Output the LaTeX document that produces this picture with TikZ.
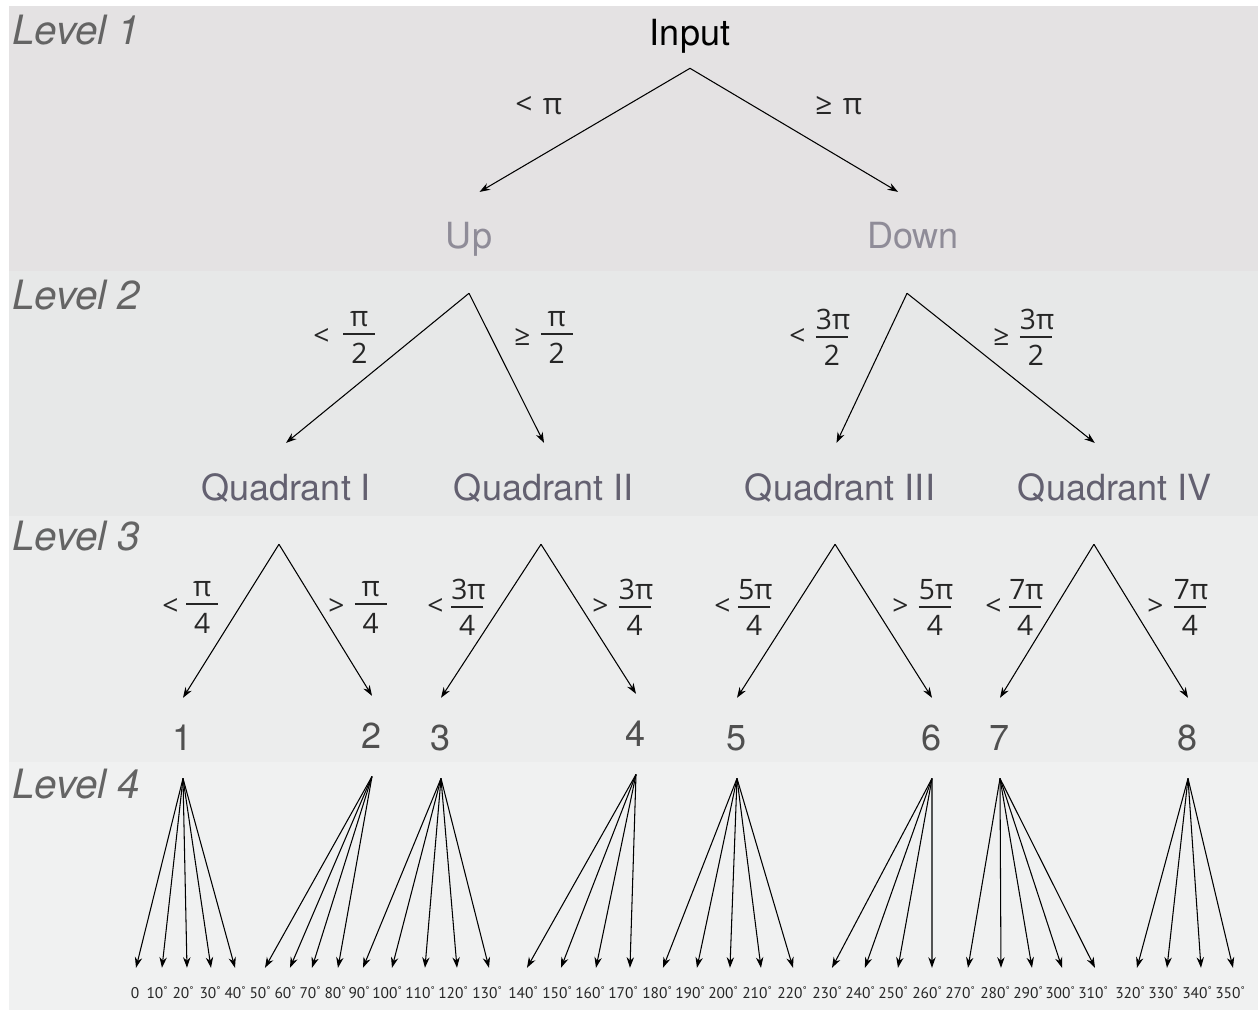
\documentclass[tikz,border=0pt]{standalone}
\usepackage{fontspec}
\setmainfont{TeX Gyre Heros}
\newfontfamily\myriad{Open Sans}
\newfontfamily\narrow{PT Sans}
\usetikzlibrary{arrows.meta}
\definecolor{bandA}{HTML}{E4E2E3}
\definecolor{bandB}{HTML}{E7E8E8}
\definecolor{bandC}{HTML}{ECEDED}
\definecolor{bandD}{HTML}{F0F1F1}
\definecolor{levgray}{HTML}{646464}
\definecolor{halfgray}{HTML}{8F8C98}
\definecolor{quadgray}{HTML}{636070}
\definecolor{numgray}{HTML}{505050}
\definecolor{condblk}{HTML}{262626}
% stacked fraction with a fixed rule width
\newcommand\fr[2]{$\vcenter{\hbox{\vbox{\halign{\hfil##\hfil\cr\hbox to 18pt{\hfil#1\hfil}\cr\noalign{\kern3.5pt\hrule height 1.1pt\kern4.5pt}#2\cr}}}}$}
\newcommand\dg{\raisebox{2.6pt}{\fontsize{5.5}{6}\selectfont °}}
\begin{document}
\begin{tikzpicture}[x=0.02cm,y=-0.02cm,>={Stealth[length=6pt,width=4.2pt]},
  lvl/.style={anchor=base west,inner sep=0pt,text=levgray,font=\fontsize{23}{27}\selectfont\itshape},
  root/.style={anchor=base,inner sep=0pt,text=black,font=\fontsize{20.5}{24}\selectfont,text depth=12.5pt},
  branch/.style={anchor=base,inner sep=0pt,font=\fontsize{20.5}{24}\selectfont,text height=32.3pt,text depth=25pt},
  leaf/.style={anchor=base,inner sep=0pt,text=numgray,font=\fontsize{20.5}{24}\selectfont,text height=29.5pt,text depth=16pt},
  deg/.style={anchor=base,inner sep=0pt,text=condblk,font=\narrow\fontsize{8.8}{10}\selectfont,text height=17pt},
  cond/.style={anchor=base west,inner sep=0pt,text=condblk,font=\myriad\fontsize{16}{19}\selectfont},
  edge/.style={->,line width=0.6pt}]
  \useasboundingbox (0,0) rectangle (1258,1010);
  % level bands
  \fill[bandA] (9,6) rectangle (1258,271);
  \fill[bandB] (9,271) rectangle (1258,516);
  \fill[bandC] (9,516) rectangle (1258,762);
  \fill[bandD] (9,762) rectangle (1258,1010);
  \node[lvl] (lev1) at (12,45) {Level 1};
  \node[lvl] (lev2) at (12,310) {Level 2};
  \node[lvl] (lev3) at (12,550) {Level 3};
  \node[lvl] (lev4) at (12,798) {Level 4};

  % tree
  \node[root] (input) at (690,46) {Input};
  \node[branch,text=halfgray] (up) at (469,249) {Up};
  \node[branch,text=halfgray] (down) at (913,249) {Down};
  \node[branch,text=quadgray] (q1) at (286,500) {Quadrant I};
  \node[branch,text=quadgray] (q2) at (544,500) {Quadrant II};
  \node[branch,text=quadgray] (q3) at (840,500) {Quadrant III};
  \node[branch,text=quadgray] (q4) at (1115,500) {Quadrant IV};
  \node[leaf] (n1) at (183,750) {1};
  \node[leaf] (n2) at (372,748) {2};
  \node[leaf] (n3) at (441,750) {3};
  \node[leaf] (n4) at (636,746) {4};
  \node[leaf] (n5) at (737,750) {5};
  \node[leaf] (n6) at (932,750) {6};
  \node[leaf] (n7) at (1000,750) {7};
  \node[leaf] (n8) at (1188,750) {8};

  \draw[edge] (input.south) -- ([xshift=6pt]up.north);
  \draw[edge] (input.south) -- ([xshift=-8.5pt]down.north);
  \draw[edge] (up.south) -- (q1.north);
  \draw[edge] (up.south) -- (q2.north);
  \draw[edge] ([xshift=-3.4pt]down.south) -- ([xshift=-2pt]q3.north);
  \draw[edge] ([xshift=-3.4pt]down.south) -- ([xshift=-11.5pt]q4.north);
  \draw[edge] ([xshift=-4pt]q1.south) -- (n1.north);
  \draw[edge] ([xshift=-4pt]q1.south) -- (n2.north);
  \draw[edge] ([xshift=-1.7pt]q2.south) -- (n3.north);
  \draw[edge] ([xshift=-1.7pt]q2.south) -- (n4.north);
  \draw[edge] ([xshift=-2.8pt]q3.south) -- (n5.north);
  \draw[edge] ([xshift=-2.8pt]q3.south) -- (n6.north);
  \draw[edge] ([xshift=-12pt]q4.south) -- (n7.north);
  \draw[edge] ([xshift=-12pt]q4.south) -- (n8.north);

  % conditions
  \node[cond,font=\myriad\fontsize{17}{20}\selectfont] (c0a) at (515,115) {<\hspace{6pt}π};
  \node[cond,font=\myriad\fontsize{17}{20}\selectfont] (c0b) at (815,115) {≥\hspace{6pt}π};
  \node[cond] (c1a) at (313,345) {<\hspace{8pt}\fr{π}{2}};
  \node[cond] (c1b) at (514,345) {≥\hspace{6pt}\fr{π}{2}};
  \node[cond] (c1c) at (789,345) {<\hspace{6pt}\fr{3π}{2}};
  \node[cond] (c1d) at (993,345) {≥\hspace{6pt}\fr{3π}{2}};
  \node[cond] (c2a) at (162,615) {<\hspace{4.5pt}\fr{π}{4}};
  \node[cond] (c2b) at (328,615) {>\hspace{6pt}\fr{π}{4}};
  \node[cond] (c2c) at (427,615) {<\hspace{4.5pt}\fr{3π}{4}};
  \node[cond] (c2d) at (592,615) {>\hspace{6pt}\fr{3π}{4}};
  \node[cond] (c2e) at (714,615) {<\hspace{4.5pt}\fr{5π}{4}};
  \node[cond] (c2f) at (892,615) {>\hspace{6pt}\fr{5π}{4}};
  \node[cond] (c2g) at (985,615) {<\hspace{4.5pt}\fr{7π}{4}};
  \node[cond] (c2h) at (1147,615) {>\hspace{6pt}\fr{7π}{4}};

  % level 4 fans: angle / label x / tip x / parent
  \foreach \a/\l/\x/\p in {0/135/136/n1,10/157/162/n1,20/183/187/n1,30/210/211/n1,40/235/235/n1,
      50/260/265/n2,60/285/290/n2,70/310/312/n2,80/335/338/n2,
      90/359/363/n3,100/387/392/n3,110/420/425/n3,120/453/457/n3,130/487/489/n3,
      140/523/527/n4,150/557/561/n4,160/590/596/n4,170/623/630/n4,
      180/657/663/n5,190/690/697/n5,200/723/730/n5,210/757/761/n5,220/792/793/n5,
      230/827/832/n6,240/860/865/n6,250/893/898/n6,260/927/932/n6,
      270/960/968/n7,280/995/1001/n7,290/1028/1032/n7,300/1060/1062/n7,310/1093/1095/n7,
      320/1130/1137/n8,330/1163/1167/n8,340/1197/1201/n8,350/1230/1233/n8}{
    \pgfmathsetmacro\dx{(\x-\l)*0.567}
    \node[deg] (d\a) at (\l,998) {\ifnum\a=0 0\else\a\dg\fi};
    \draw[edge] (\p.south) -- ([xshift=\dx pt]d\a.north);
  }
\end{tikzpicture}
\end{document}
